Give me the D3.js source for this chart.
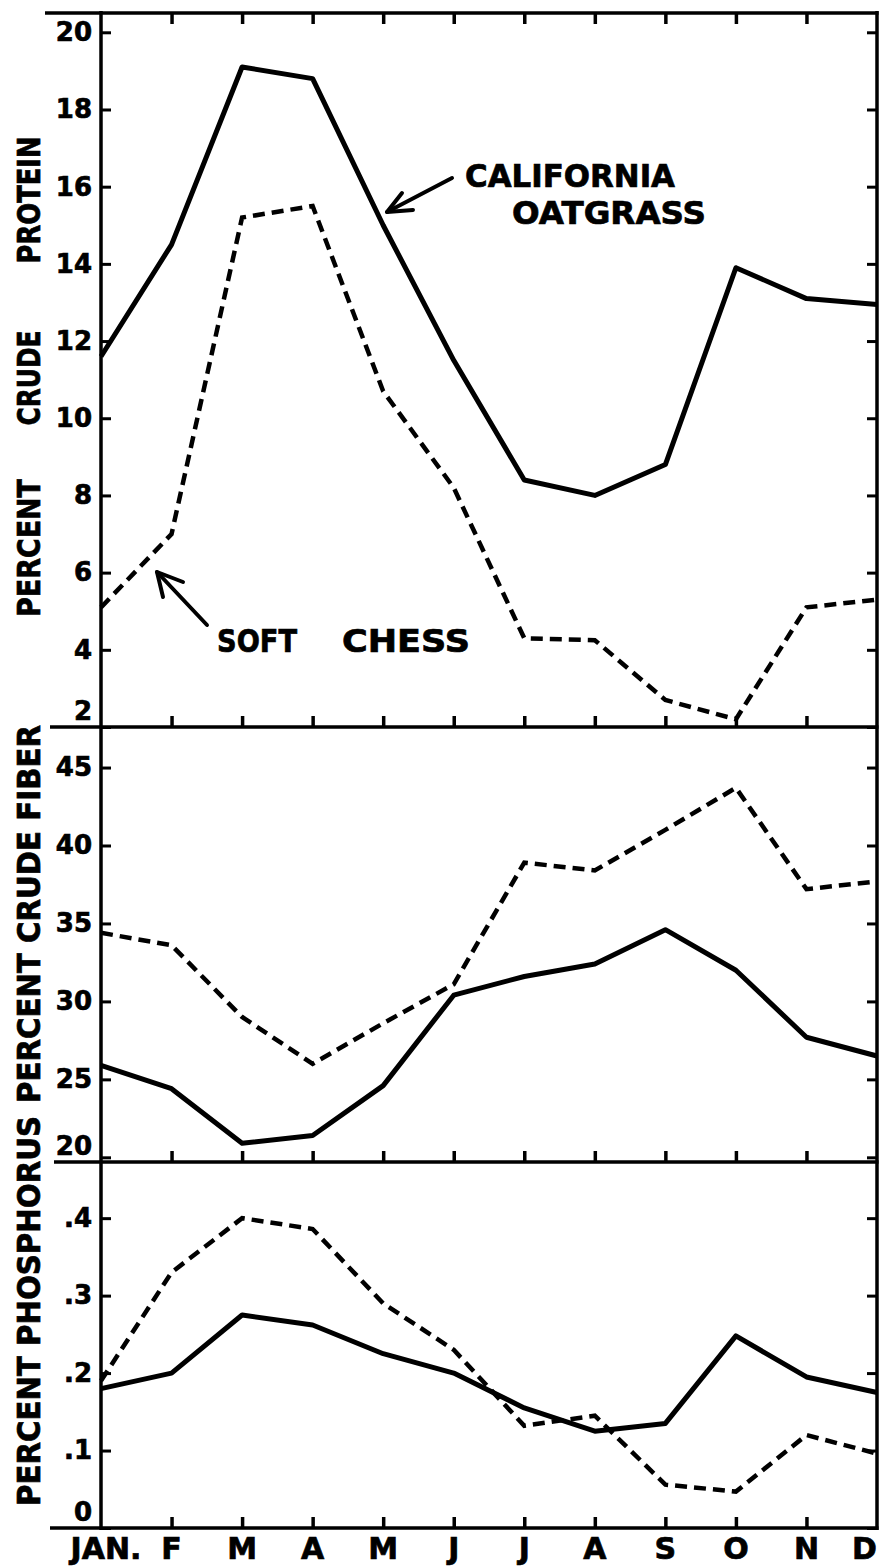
<!DOCTYPE html>
<html>
<head>
<meta charset="utf-8">
<title>Crude protein, crude fiber and phosphorus by month</title>
<style>
  body { margin: 0; background: #fff; }
  svg text { font-family: "DejaVu Sans", "Liberation Sans", sans-serif; font-weight: bold; fill: #000;
             stroke: #000; stroke-width: 0.7px; }
</style>
</head>
<body>
<div id="chart"></div>
<script src="https://cdnjs.cloudflare.com/ajax/libs/d3/7.8.5/d3.min.js"></script>
<script>
// months along the bottom
var months = ["JAN.", "F", "M", "A", "M", "J", "J", "A", "S", "O", "N", "D"];

// crude protein (%)
var proteinOatgrass = [11.6, 14.5, 19.1, 18.8, 15.0, 11.5, 8.4, 8.0, 8.8, 13.9, 13.1, 12.95];
var proteinChess    = [5.1, 7.0, 15.2, 15.5, 10.7, 8.2, 4.3, 4.25, 2.7, 2.2, 5.1, 5.3];

// crude fiber (%)
var fiberOatgrass = [25.9, 24.4, 20.9, 21.4, 24.6, 30.4, 31.6, 32.4, 34.6, 32.0, 27.7, 26.5];
var fiberChess    = [34.4, 33.6, 29.0, 26.0, 28.6, 31.1, 38.9, 38.4, 41.0, 43.7, 37.2, 37.7];

// phosphorus (%)
var phosOatgrass = [0.18, 0.20, 0.275, 0.262, 0.225, 0.20, 0.155, 0.125, 0.135, 0.248, 0.195, 0.175];
var phosChess    = [0.19, 0.33, 0.40, 0.386, 0.29, 0.23, 0.132, 0.145, 0.056, 0.047, 0.12, 0.096];

// tick labels
var proteinTicks = [2, 4, 6, 8, 10, 12, 14, 16, 18, 20];
var fiberTicks = [20, 25, 30, 35, 40, 45];
var phosTicks = [0, 0.1, 0.2, 0.3, 0.4];

var W = 880, H = 1567;
var left = 101, right = 877;

var svg = d3.select("#chart").append("svg")
    .attr("width", W).attr("height", H);

var x = d3.scaleLinear().domain([0, 11]).range([left, right]);

var panels = [
  { top: 13,   bottom: 727,  domain: [2, 20.5],     ticks: proteinTicks, fmt: d3.format("d"),
    solid: proteinOatgrass, dashed: proteinChess },
  { top: 727,  bottom: 1162, domain: [19.7, 47.6],  ticks: fiberTicks,   fmt: d3.format("d"),
    solid: fiberOatgrass, dashed: fiberChess },
  { top: 1162, bottom: 1528, domain: [0, 0.4725],   ticks: phosTicks,
    fmt: function(d) { return d === 0 ? "0" : d3.format(".1f")(d).replace(/^0/, ""); },
    solid: phosOatgrass, dashed: phosChess }
];

panels.forEach(function(p) {
  var y = d3.scaleLinear().domain(p.domain).range([p.bottom, p.top]);
  var g = svg.append("g");

  // left ticks + labels
  var la = g.append("g").attr("transform", "translate(" + left + ",0)")
    .call(d3.axisLeft(y).tickValues(p.ticks).tickSizeInner(-10).tickSizeOuter(0)
      .tickPadding(9).tickFormat(p.fmt));
  la.select(".domain").remove();
  la.selectAll(".tick line").attr("stroke", "#000").attr("stroke-width", 3);
  la.selectAll(".tick text")
    .attr("font-size", 26)
    .attr("font-family", null)
    .attr("y", function(d) { return Math.min(y(d), p.bottom - 16) - y(d); });

  // right ticks
  var ra = g.append("g").attr("transform", "translate(" + right + ",0)")
    .call(d3.axisRight(y).tickValues(p.ticks).tickSizeInner(-10).tickSizeOuter(0).tickFormat(""));
  ra.select(".domain").remove();
  ra.selectAll(".tick line").attr("stroke", "#000").attr("stroke-width", 3);

  // month ticks on the bottom edge (pointing up)
  var ba = g.append("g").attr("transform", "translate(0," + p.bottom + ")")
    .call(d3.axisBottom(x).tickValues(d3.range(1, 11)).tickSizeInner(-11).tickSizeOuter(0).tickFormat(""));
  ba.select(".domain").remove();
  ba.selectAll(".tick line").attr("stroke", "#000").attr("stroke-width", 3.5);

  var line = d3.line()
    .x(function(d, i) { return x(i); })
    .y(function(d) { return y(d); });

  g.append("path").datum(p.solid)
    .attr("d", line).attr("fill", "none").attr("stroke", "#000")
    .attr("stroke-width", 5).attr("stroke-linejoin", "round");
  g.append("path").datum(p.dashed)
    .attr("d", line).attr("fill", "none").attr("stroke", "#000")
    .attr("stroke-width", 4.5).attr("stroke-dasharray", "12,7");
});

// month ticks along the very top (pointing down)
var ta = svg.append("g").attr("transform", "translate(0,13)")
  .call(d3.axisTop(x).tickValues(d3.range(1, 11)).tickSizeInner(-11).tickSizeOuter(0).tickFormat(""));
ta.select(".domain").remove();
ta.selectAll(".tick line").attr("stroke", "#000").attr("stroke-width", 3.5);

// frame
var frame = svg.append("g").attr("stroke", "#000").attr("stroke-width", 3.5).attr("fill", "none");
frame.append("line").attr("x1", 45).attr("x2", right + 1.5).attr("y1", 13).attr("y2", 13);
frame.append("line").attr("x1", 50).attr("x2", right + 1.5).attr("y1", 727).attr("y2", 727);
frame.append("line").attr("x1", 54).attr("x2", right + 1.5).attr("y1", 1162).attr("y2", 1162);
frame.append("line").attr("x1", 50).attr("x2", right + 1.5).attr("y1", 1528).attr("y2", 1528);
frame.append("line").attr("x1", left).attr("x2", left).attr("y1", 11).attr("y2", 1530);
frame.append("line").attr("x1", right).attr("x2", right).attr("y1", 11).attr("y2", 1530);

// month labels
svg.append("g").selectAll("text").data(months).enter().append("text")
  .attr("x", function(d, i) { return i === 0 ? 106 : (i === 11 ? 877 : x(i)); })
  .attr("y", 1559)
  .attr("font-size", 30)
  .attr("text-anchor", function(d, i) { return i === 11 ? "end" : "middle"; })
  .text(function(d) { return d; });

// rotated axis titles
var titles = [
  { t: "PROTEIN", cy: 200, len: 127 },
  { t: "CRUDE", cy: 378, len: 95 },
  { t: "PERCENT", cy: 548, len: 138 },
  { t: "PERCENT CRUDE FIBER", cy: 914, len: 378 },
  { t: "PERCENT PHOSPHORUS", cy: 1311, len: 390 }
];
svg.append("g").selectAll("text").data(titles).enter().append("text")
  .attr("transform", function(d) { return "translate(40," + d.cy + ") rotate(-90)"; })
  .attr("text-anchor", "middle")
  .attr("font-size", 32)
  .attr("textLength", function(d) { return d.len; })
  .attr("lengthAdjust", "spacingAndGlyphs")
  .text(function(d) { return d.t; });

// annotations
var notes = [
  { t: "CALIFORNIA", x: 465, y: 187, len: 210 },
  { t: "OATGRASS", x: 512, y: 224, len: 194 },
  { t: "SOFT", x: 217, y: 652, len: 80 },
  { t: "CHESS", x: 342, y: 652, len: 128 }
];
svg.append("g").selectAll("text").data(notes).enter().append("text")
  .attr("x", function(d) { return d.x; })
  .attr("y", function(d) { return d.y; })
  .attr("font-size", 32)
  .attr("textLength", function(d) { return d.len; })
  .attr("lengthAdjust", "spacingAndGlyphs")
  .text(function(d) { return d.t; });

// arrows
var arrows = [
  { shaft: [[452, 178], [387, 212]], head: [[402, 193], [387, 212], [413, 210]] },
  { shaft: [[207, 625], [157, 572]], head: [[163, 597], [157, 572], [183, 582]] }
];
var ag = svg.append("g").attr("stroke", "#000").attr("stroke-width", 4)
  .attr("fill", "none").attr("stroke-linecap", "round").attr("stroke-linejoin", "round");
arrows.forEach(function(a) {
  ag.append("path").attr("d", d3.line()(a.shaft));
  ag.append("path").attr("d", d3.line()(a.head));
});
</script>
</body>
</html>
